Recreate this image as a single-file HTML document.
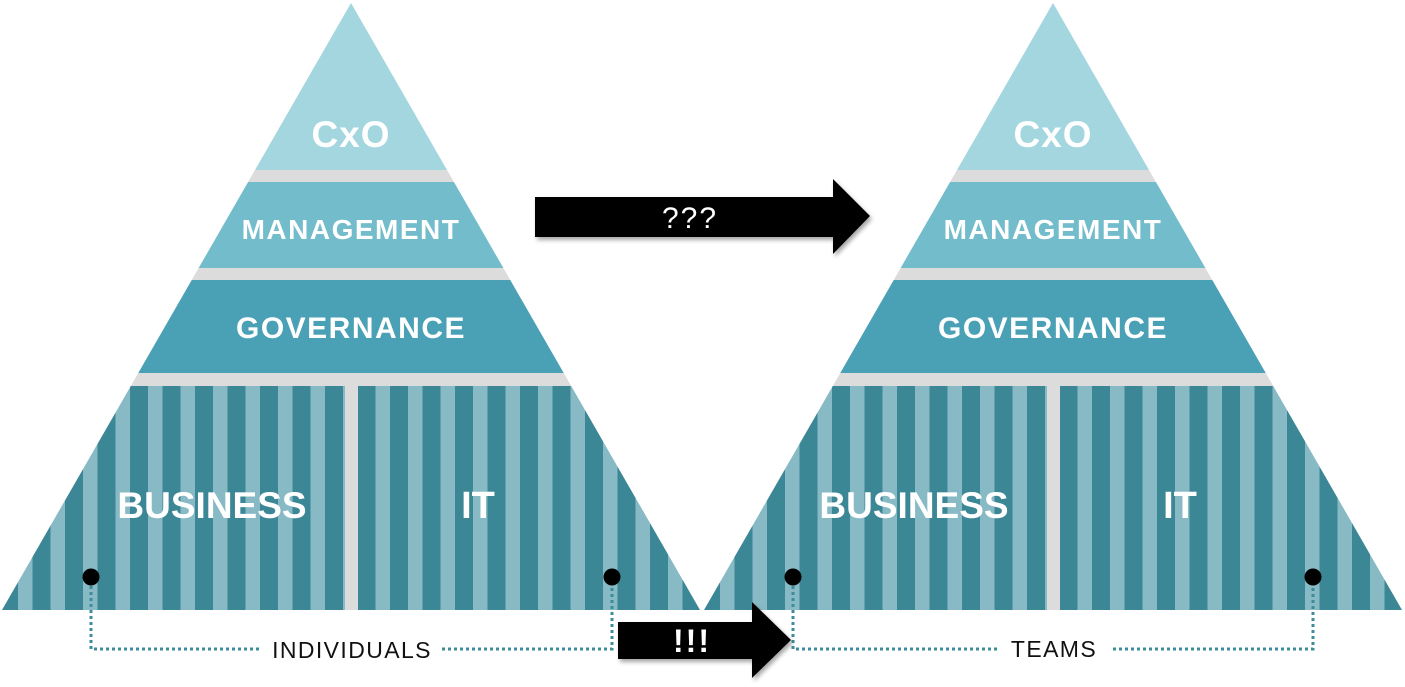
<!DOCTYPE html>
<html><head><style>
html,body{margin:0;padding:0;background:#fff;width:1405px;height:687px;overflow:hidden}
svg text{font-family:"Liberation Sans",sans-serif}
</style></head><body>
<svg width="1405" height="687" viewBox="0 0 1405 687" xmlns="http://www.w3.org/2000/svg">
<defs>
<pattern id="st" x="0" y="0" width="32.5" height="10" patternUnits="userSpaceOnUse">
<rect x="0" y="0" width="32.5" height="10" fill="#3c8796"/>
<rect x="18" y="0" width="15" height="10" fill="#87bac5"/>
</pattern>
<clipPath id="tri"><polygon points="351,3 700,610 2,610"/></clipPath>
<filter id="sh" x="-10%" y="-10%" width="130%" height="140%"><feDropShadow dx="2" dy="3" stdDeviation="2" flood-color="#000" flood-opacity="0.35"/></filter>
<g id="pyr">
<g clip-path="url(#tri)">
<rect x="0" y="0" width="705" height="170" fill="#a4d6e0"/>
<rect x="0" y="170" width="705" height="12" fill="#dcdcdc"/>
<rect x="0" y="182" width="705" height="86" fill="#72bccb"/>
<rect x="0" y="268" width="705" height="12" fill="#dcdcdc"/>
<rect x="0" y="280" width="705" height="93" fill="#4aa0b5"/>
<rect x="0" y="373" width="705" height="13" fill="#dcdcdc"/>
<rect x="0" y="386" width="705" height="224" fill="url(#st)"/>
<rect x="345" y="386" width="13" height="224" fill="#dcdcdc"/>
</g>
<text x="351" y="147" fill="#fff" font-size="37" font-weight="bold" text-anchor="middle" letter-spacing="1">CxO</text>
<text x="351" y="239" fill="#fff" font-size="28" font-weight="bold" text-anchor="middle" letter-spacing="1.5">MANAGEMENT</text>
<text x="351" y="338" fill="#fff" font-size="30" font-weight="bold" text-anchor="middle" letter-spacing="1.5">GOVERNANCE</text>
<text x="212" y="518" fill="#fff" font-size="37" font-weight="bold" text-anchor="middle">BUSINESS</text>
<text x="478" y="518" fill="#fff" font-size="38" font-weight="bold" text-anchor="middle">IT</text>
</g>
</defs>
<use href="#pyr"/>
<use href="#pyr" transform="translate(702,0)"/>
<g fill="none" stroke="#3d8c9a" stroke-width="3" stroke-dasharray="3,3">
<polyline points="91,580 91,649 262,649"/>
<polyline points="442,649 612,649 612,580"/>
<polyline points="793,580 793,649 1000,649"/>
<polyline points="1113,649 1313,649 1313,580"/>
</g>
<g fill="#000">
<circle cx="91" cy="577" r="8.5"/><circle cx="612" cy="577" r="8.5"/>
<circle cx="793" cy="577" r="8.5"/><circle cx="1313" cy="577" r="8.5"/>
</g>
<text x="352" y="658" font-size="23" text-anchor="middle" fill="#111" letter-spacing="1.4">INDIVIDUALS</text>
<text x="1054" y="657" font-size="23" text-anchor="middle" fill="#111" letter-spacing="1.4">TEAMS</text>
<polygon filter="url(#sh)" points="535,197 833,197 833,179 870,216 833,254 833,237 535,237" fill="#000"/>
<text x="690" y="228" font-size="30" fill="#fff" text-anchor="middle" letter-spacing="2">???</text>
<polygon filter="url(#sh)" points="618,622 752,622 752,602 791,640 752,678 752,659 618,659" fill="#000"/>
<text x="692" y="652" font-size="32" fill="#fff" text-anchor="middle" font-weight="bold" letter-spacing="2">!!!</text>
</svg>
</body></html>
